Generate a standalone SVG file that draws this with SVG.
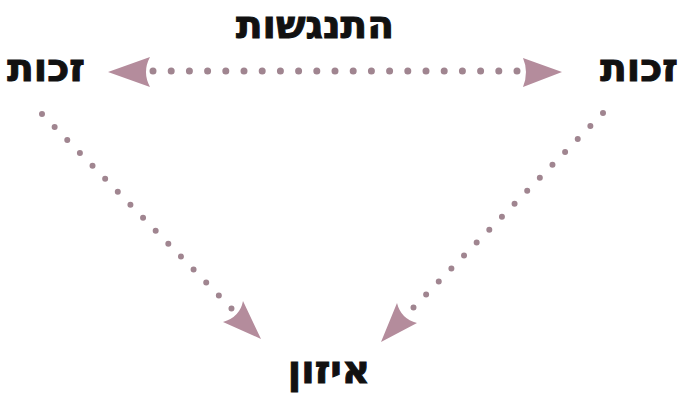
<svg xmlns="http://www.w3.org/2000/svg" width="685" height="400" viewBox="0 0 685 400">
<defs>
<style>
.lbl{font-family:"DejaVu Sans","Liberation Sans",sans-serif;font-weight:bold;fill:#111;stroke:#111;stroke-width:1;text-anchor:middle;direction:rtl}
.dot{fill:none;stroke:#a08590;stroke-width:7;stroke-linecap:round;stroke-dasharray:0 18.2}
.ddot{fill:none;stroke:#a08590;stroke-width:6;stroke-linecap:round;stroke-dasharray:0 18.1}
.head{fill:#b48c9c}
</style>
</defs>
<rect width="685" height="400" fill="#fff"/>
<g id="connectors">
<path class="dot" d="M153,71 H520"/>
<path class="head" d="M108,72 L150,57 Q142,72 150,87 Z"/>
<path class="head" d="M562,72 L523,58 Q529,72 523,87 Z"/>
<path class="ddot" d="M42,114 L232,309"/>
<path class="head" d="M261,339 L243,301 Q240,317 223,322 Z"/>
<path class="ddot" d="M603,113 L410,311"/>
<path class="head" d="M381,342 L397,303 Q401,319 417,323 Z"/>
</g>
<g id="node-left"><text class="lbl" x="46" y="81" font-size="39">זכות</text></g>
<g id="node-right"><text class="lbl" x="639" y="81" font-size="39">זכות</text></g>
<g id="label-top"><text class="lbl" x="315" y="38" font-size="39">התנגשות</text></g>
<g id="node-bottom"><text class="lbl" x="329" y="383" font-size="39">איזון</text></g>
</svg>
